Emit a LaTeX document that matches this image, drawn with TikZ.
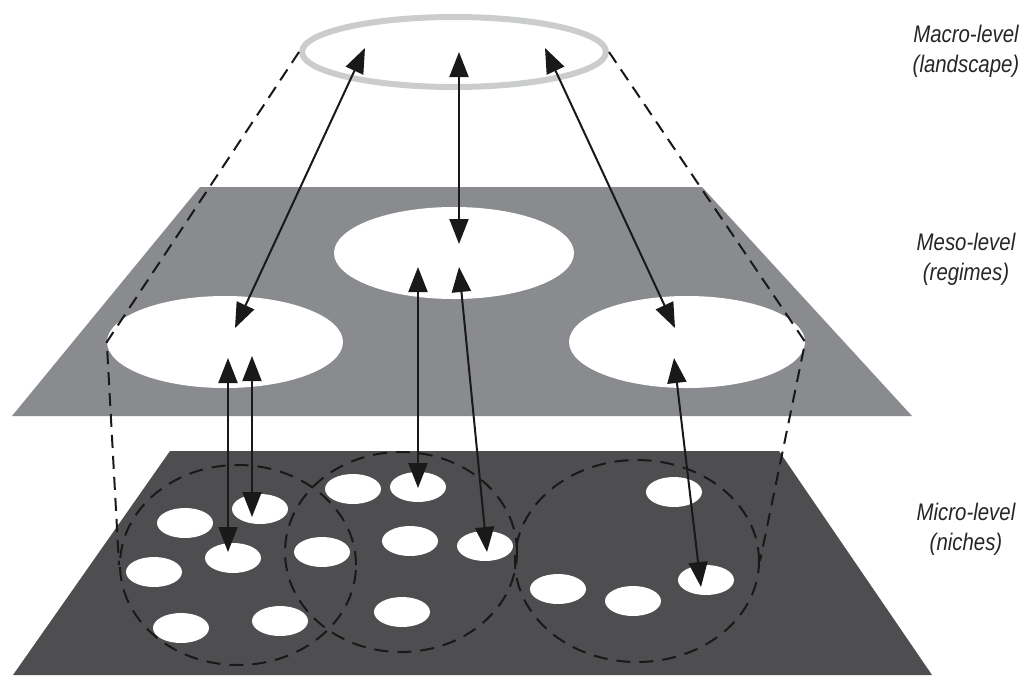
\documentclass[tikz,border=0pt]{standalone}
\usepackage{fontspec}
\usepackage{tikz}
\usetikzlibrary{shapes.geometric}
\usetikzlibrary{arrows.meta}
\newfontfamily\levelfont{Liberation Sans}[FakeStretch=0.85]
\definecolor{mesogrey}{HTML}{8A8B8F}
\definecolor{microgrey}{HTML}{4E4E50}
\definecolor{ringgrey}{HTML}{CBCCCD}

\begin{document}
\begin{tikzpicture}[x=1pt, y=-1pt,
    hole/.style={ellipse, fill=white, inner sep=0pt},
    niche/.style={hole, minimum width=56, minimum height=30},
    cluster/.style={ellipse, draw=black!90, line width=2pt, dash pattern=on 14pt off 9pt, inner sep=0pt},
    link/.style={draw=black!90, line width=2pt, {Triangle[length=25pt, width=19pt]}-{Triangle[length=25pt, width=19pt]}},
    guide/.style={draw=black!90, line width=2pt, dash pattern=on 13pt off 8pt},
    level/.style={font=\levelfont\itshape\fontsize{24}{30}\selectfont, text=black!85, align=center}]
	\useasboundingbox (0,0) rectangle (1024,675);

	% meso level
	\fill[mesogrey](200,187)--(702,187)--(912,416)--(12,416)--cycle;
	\node[hole, minimum width=236, minimum height=92] (mesoL) at (225,342) {};
	\node[hole, minimum width=240, minimum height=92] (mesoC) at (454,253) {};
	\node[hole, minimum width=236, minimum height=92] (mesoR) at (687,342) {};

	% micro level
	\fill[microgrey](170,451)--(779,451)--(932,675)--(13,675)--cycle;
	\node[niche] (n1) at (185,523) {};
	\node[niche] (n2) at (260,509) {};
	\node[niche] (n3) at (233,558) {};
	\node[niche] (n4) at (154,572) {};
	\node[niche] (n5) at (181,628) {};
	\node[niche] (n6) at (280,621) {};
	\node[niche] (n7) at (322,552) {};
	\node[niche] (n8) at (353,489) {};
	\node[niche] (n9) at (418,487) {};
	\node[niche] (n10) at (410,541) {};
	\node[niche] (n11) at (485,546) {};
	\node[niche] (n12) at (402,612) {};
	\node[niche] (n13) at (674,492) {};
	\node[niche] (n14) at (706,580) {};
	\node[niche] (n15) at (558,589) {};
	\node[niche] (n16) at (633,601) {};
	\node[cluster, minimum width=236, minimum height=200] (clusterL) at (238,565) {};
	\node[cluster, minimum width=232, minimum height=200] (clusterC) at (401,552) {};
	\node[cluster, minimum width=244, minimum height=202] (clusterR) at (637,561) {};

	% macro level
	\node[ellipse, draw=ringgrey, line width=6pt, inner sep=0pt, minimum width=304, minimum height=70] (macro) at (454,52) {};

	% funnel
	\draw[guide](macro.west)--(mesoL.west)--(clusterL.west);
	\draw[guide](macro.east)--(mesoR.east)--(clusterR.east);

	% arrow ends
	\coordinate (up1) at (365,48);
	\coordinate (up2) at (459,52);
	\coordinate (up3) at (545,48);
	\coordinate (mL) at (235,328);
	\coordinate (mC) at (459,244);
	\coordinate (mR) at (675,328);
	\coordinate (mL1) at (228,358);
	\coordinate (mL2) at (252,356);
	\coordinate (mC1) at (418,267);
	\coordinate (mC2) at (459,267);
	\coordinate (mR1) at (674,358);
	\coordinate (t3) at (228,552);
	\coordinate (t2) at (252,517);
	\coordinate (t9) at (418,488);
	\coordinate (t11) at (487,552);
	\coordinate (t14) at (701,587);

	\draw[link](up1)--(mL);
	\draw[link](up2)--(mC);
	\draw[link](up3)--(mR);
	\draw[link](mL1)--(t3);
	\draw[link](mL2)--(t2);
	\draw[link](mC1)--(t9);
	\draw[link](mC2)--(t11);
	\draw[link](mR1)--(t14);

	% labels
	\node[level] (macrolabel) at (966,51) {Macro-level\\(landscape)};
	\node[level] (mesolabel) at (966,259) {Meso-level\\(regimes)};
	\node[level] (microlabel) at (966,529) {Micro-level\\(niches)};
\end{tikzpicture}
\end{document}
